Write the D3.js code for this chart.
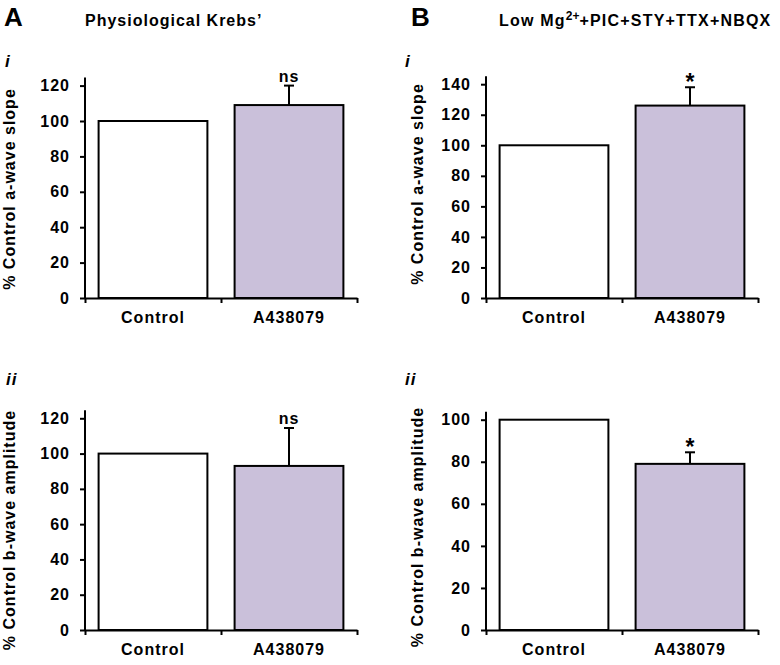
<!DOCTYPE html>
<html>
<head>
<meta charset="utf-8">
<script src="https://cdn.jsdelivr.net/npm/d3@7.9.0/dist/d3.min.js"></script>
<style>
  body { margin: 0; background: #fff; }
  svg { display: block; }
  text { font-family: "Liberation Sans", Arial, sans-serif; font-weight: bold; fill: #000; }
  .axis path, .axis line { stroke: #000; stroke-width: 2; }
  .axis text { font-size: 16px; letter-spacing: 1px; font-family: "Liberation Sans", Arial, sans-serif; font-weight: bold; }
</style>
</head>
<body>
<svg id="fig" width="780" height="665"></svg>
<script>
// data
const categories = ["Control", "A438079"];

const aSlopePhys = [100, 109];
const aSlopePhysErr = [0, 11];
const bAmpPhys = [100, 93];
const bAmpPhysErr = [0, 21.5];

const aSlopeBlock = [100, 126];
const aSlopeBlockErr = [0, 12];
const bAmpBlock = [100, 79];
const bAmpBlockErr = [0, 5.5];

const ticksPhys = [0, 20, 40, 60, 80, 100, 120];
const ticksBlockA = [0, 20, 40, 60, 80, 100, 120, 140];
const ticksBlockB = [0, 20, 40, 60, 80, 100];

const sigPhysA = "ns";
const sigPhysB = "ns";
const sigBlockA = "*";
const sigBlockB = "*";

const barColors = ["#ffffff", "#cac0da"];

const svg = d3.select("#fig");

function drawPanel(p) {
  const g = svg.append("g");
  const x = d3.scaleBand().domain(categories).range(p.xRange).paddingInner(0.2).paddingOuter(0.1);
  const y = d3.scaleLinear().domain([0, d3.max(p.ticks)]).range([p.y0, p.yTop]);

  // bars
  g.selectAll(".bar")
    .data(p.values)
    .join("rect")
    .attr("x", (d, i) => x(categories[i]))
    .attr("y", d => y(d))
    .attr("width", x.bandwidth())
    .attr("height", d => y(0) - y(d))
    .attr("fill", (d, i) => barColors[i])
    .attr("stroke", "#000")
    .attr("stroke-width", 2);

  // error bars (upper half only)
  const errs = p.values.map((v, i) => ({ v, e: p.errors[i], c: categories[i] })).filter(d => d.e > 0);
  errs.forEach(d => {
    const cx = x(d.c) + x.bandwidth() / 2;
    g.append("line")
      .attr("x1", cx).attr("x2", cx)
      .attr("y1", y(d.v)).attr("y2", y(d.v + d.e))
      .attr("stroke", "#000").attr("stroke-width", 2);
    g.append("line")
      .attr("x1", cx - 5).attr("x2", cx + 5)
      .attr("y1", y(d.v + d.e)).attr("y2", y(d.v + d.e))
      .attr("stroke", "#000").attr("stroke-width", 2);
    if (p.sig === "*") {
      g.append("text")
        .attr("x", cx).attr("y", y(d.v + d.e) + 3)
        .attr("text-anchor", "middle")
        .attr("font-size", "23px")
        .text(p.sig);
    } else {
      g.append("text")
        .attr("x", cx).attr("y", y(d.v + d.e) - 4)
        .attr("text-anchor", "middle")
        .attr("font-size", "16px")
        .attr("letter-spacing", "1px")
        .text(p.sig);
    }
  });

  // y axis
  const yAxis = g.append("g")
    .attr("class", "axis")
    .attr("transform", `translate(${p.xRange[0]},0)`)
    .call(d3.axisLeft(y).tickValues(p.ticks).tickSize(5).tickSizeOuter(0).tickPadding(10));
  yAxis.select(".domain").remove();
  yAxis.append("line")
    .attr("x1", 0).attr("x2", 0)
    .attr("y1", p.y0).attr("y2", p.yTop - 8)
    .attr("stroke", "#000").attr("stroke-width", 2);

  // x axis: labels at band centres, ticks at band edges
  const xAxis = g.append("g")
    .attr("class", "axis")
    .attr("transform", `translate(0,${p.y0})`)
    .call(d3.axisBottom(x).tickSize(0).tickPadding(14));
  xAxis.select(".domain").remove();
  xAxis.selectAll("text").attr("dy", "0.71em");

  const edges = d3.scaleLinear().domain([0, categories.length]).range(p.xRange);
  g.append("g")
    .attr("class", "axis")
    .attr("transform", `translate(0,${p.y0})`)
    .call(d3.axisBottom(edges).tickValues(d3.range(categories.length + 1)).tickFormat("").tickSize(5).tickSizeOuter(0));

  // y title
  g.append("text")
    .attr("transform", `translate(${p.titleX},${p.titleY}) rotate(-90)`)
    .attr("text-anchor", "middle")
    .attr("font-size", "16px")
    .attr("letter-spacing", "1px")
    .text(p.yTitle);

  // sub-panel label
  g.append("text")
    .attr("x", p.labelX).attr("y", p.labelY)
    .attr("font-size", "17px")
    .attr("font-style", "italic")
    .attr("letter-spacing", "1px")
    .text(p.label);
}

drawPanel({ xRange: [85, 357], y0: 298, yTop: 85.6, ticks: ticksPhys, values: aSlopePhys, errors: aSlopePhysErr,
  sig: sigPhysA, yTitle: "% Control a-wave slope", titleX: 15, titleY: 189, label: "i", labelX: 5, labelY: 67 });
drawPanel({ xRange: [85, 357], y0: 630, yTop: 418.3, ticks: ticksPhys, values: bAmpPhys, errors: bAmpPhysErr,
  sig: sigPhysB, yTitle: "% Control b-wave amplitude", titleX: 15, titleY: 530, label: "ii", labelX: 6, labelY: 385 });
drawPanel({ xRange: [486, 758], y0: 298, yTop: 84.2, ticks: ticksBlockA, values: aSlopeBlock, errors: aSlopeBlockErr,
  sig: sigBlockA, yTitle: "% Control a-wave slope", titleX: 423, titleY: 184, label: "i", labelX: 405, labelY: 67 });
drawPanel({ xRange: [486, 758], y0: 630, yTop: 419.7, ticks: ticksBlockB, values: bAmpBlock, errors: bAmpBlockErr,
  sig: sigBlockB, yTitle: "% Control b-wave amplitude", titleX: 423, titleY: 527, label: "ii", labelX: 405, labelY: 385 });

// panel letters and headings
svg.append("text").attr("x", 4).attr("y", 26).attr("font-size", "26px").text("A");
svg.append("text").attr("x", 411).attr("y", 26).attr("font-size", "26px").text("B");

svg.append("text").attr("x", 85).attr("y", 26).attr("font-size", "16px").attr("letter-spacing", "1px")
  .text("Physiological Krebs\u2019");

const hB = svg.append("text").attr("x", 499).attr("y", 26).attr("font-size", "16px").attr("letter-spacing", "1.2px");
hB.append("tspan").text("Low Mg");
hB.append("tspan").attr("font-size", "12px").attr("dy", -6).attr("letter-spacing", "0px").text("2+");
hB.append("tspan").attr("dy", 6).text("+PIC+STY+TTX+NBQX");
</script>
</body>
</html>
